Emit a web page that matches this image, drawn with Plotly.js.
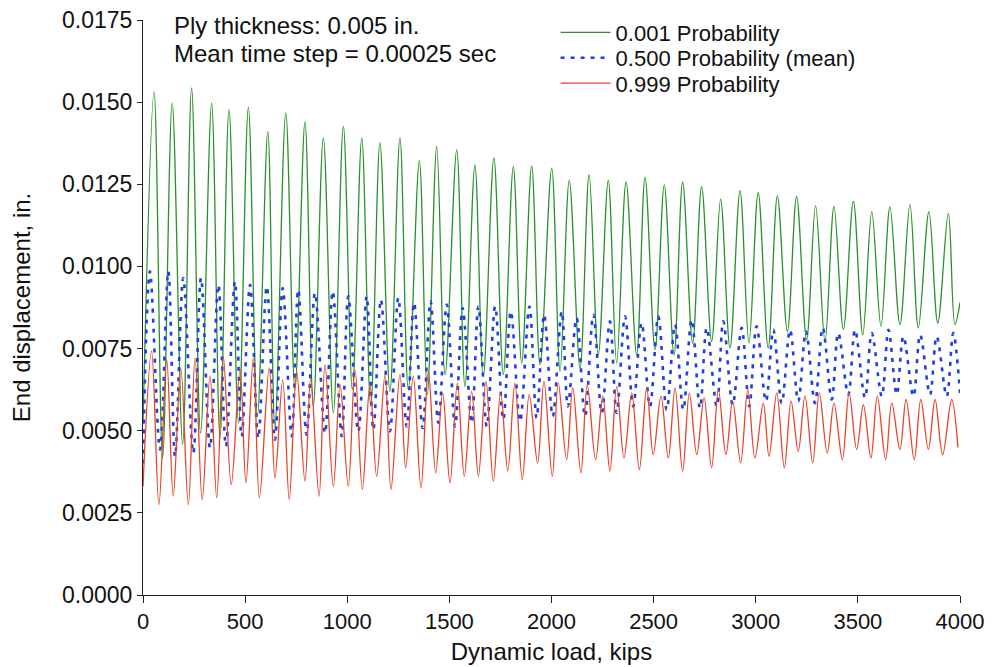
<!DOCTYPE html>
<html>
<head>
<meta charset="utf-8">
<script src="https://cdn.plot.ly/plotly-3.0.1.min.js"></script>
<style>html,body{margin:0;padding:0;background:#fff;}#chart{width:994px;height:667px;}</style>
</head>
<body>
<div id="chart"></div>
<script>
// ---- 0.001 Probability (green) ----
const greenStart = [0, 0.0052];
const greenPeakX = [54,143,238,336,421,516,611,699,793,883,981,1071,1160,1258,1353,1438,1536,1625,1718,1813,1903,2001,2087,2184,2278,2365,2458,2552,2642,2735,2828,2923,3012,3106,3200,3293,3383,3478,3568,3657,3755,3848,3943];
const greenPeakY = [0.01532,0.01497,0.01543,0.01497,0.01477,0.01485,0.01411,0.01467,0.01441,0.01391,0.01426,0.01391,0.01377,0.01391,0.01322,0.01365,0.01355,0.01309,0.01330,0.01304,0.01306,0.01299,0.01262,0.01279,0.01262,0.01257,0.01272,0.01248,0.01257,0.01243,0.01205,0.01231,0.01225,0.01215,0.01213,0.01185,0.01182,0.01198,0.01167,0.01181,0.01188,0.01167,0.01162];
const greenTroughX = [96,194,282,377,468,560,646,744,834,932,1025,1115,1209,1299,1392,1479,1576,1666,1764,1854,1944,2042,2140,2229,2319,2417,2507,2600,2691,2784,2874,2967,3061,3155,3249,3339,3429,3524,3613,3706,3796,3891,3975];
const greenTroughY = [0.00417,0.00458,0.00493,0.00478,0.00524,0.00544,0.00509,0.00625,0.00574,0.00554,0.00625,0.00574,0.00620,0.00625,0.00610,0.00671,0.00635,0.00665,0.00671,0.00706,0.00701,0.00681,0.00691,0.00731,0.00706,0.00731,0.00747,0.00731,0.00767,0.00772,0.00752,0.00767,0.00752,0.00802,0.00777,0.00772,0.00808,0.00792,0.00818,0.00823,0.00813,0.00828,0.00823];
const greenEnd = [4000, 0.0089];

// ---- 0.500 Probability (mean) (blue) ----
const blueStart = [0, 0.0040];
const bluePeakX = [34,124,197,284,369,450,524,606,684,760,842,929,1005,1095,1165,1250,1327,1408,1487,1565,1642,1724,1801,1892,1964,2050,2123,2205,2286,2360,2441,2523,2605,2686,2760,2841,2931,3004,3086,3168,3246,3328,3404,3486,3568,3650,3723,3805,3886,3967];
const bluePeakY = [0.00985,0.00985,0.00965,0.00965,0.00944,0.00954,0.00944,0.00939,0.00934,0.00929,0.00919,0.00924,0.00909,0.00909,0.00899,0.00904,0.00889,0.00894,0.00884,0.00873,0.00878,0.00878,0.00863,0.00878,0.00853,0.00863,0.00843,0.00853,0.00833,0.00848,0.00828,0.00848,0.00823,0.00838,0.00813,0.00833,0.00813,0.00818,0.00807,0.00807,0.00802,0.00813,0.00797,0.00807,0.00797,0.00807,0.00787,0.00792,0.00787,0.00797];
const blueTroughX = [83,157,246,328,406,483,564,646,728,801,891,973,1054,1128,1209,1291,1369,1446,1528,1609,1683,1764,1846,1927,2006,2080,2164,2246,2319,2400,2482,2564,2645,2727,2809,2887,2968,3050,3127,3208,3290,3372,3453,3535,3617,3690,3772,3853,3935];
const blueTroughY = [0.00443,0.00422,0.00432,0.00448,0.00453,0.00483,0.00478,0.00473,0.00483,0.00488,0.00493,0.00483,0.00498,0.00503,0.00498,0.00513,0.00508,0.00524,0.00513,0.00524,0.00513,0.00534,0.00529,0.00539,0.00544,0.00574,0.00544,0.00554,0.00554,0.00574,0.00574,0.00564,0.00564,0.00569,0.00574,0.00579,0.00574,0.00590,0.00584,0.00590,0.00584,0.00595,0.00610,0.00600,0.00605,0.00610,0.00605,0.00610,0.00605];
const blueEnd = [4000, 0.00615];

// ---- 0.999 Probability (red) ----
const redStart = [0, 0.0033];
const redPeakX = [42,116,185,255,328,393,475,540,618,684,752,821,891,965,1038,1111,1185,1258,1323,1397,1467,1539,1609,1679,1751,1821,1891,1963,2033,2104,2175,2251,2319,2393,2466,2536,2605,2675,2747,2817,2887,2961,3037,3103,3173,3241,3311,3383,3457,3527,3595,3666,3736,3808,3878,3959];
const redPeakY = [0.00742,0.00716,0.00691,0.00721,0.00666,0.00726,0.00686,0.00721,0.00691,0.00655,0.00681,0.00660,0.00701,0.00640,0.00686,0.00640,0.00671,0.00671,0.00666,0.00681,0.00615,0.00645,0.00620,0.00650,0.00615,0.00645,0.00610,0.00650,0.00645,0.00630,0.00640,0.00605,0.00635,0.00615,0.00630,0.00605,0.00630,0.00615,0.00600,0.00625,0.00590,0.00625,0.00584,0.00615,0.00590,0.00605,0.00615,0.00584,0.00615,0.00579,0.00605,0.00584,0.00595,0.00595,0.00595,0.00595];
const redTroughX = [78,148,222,290,361,432,504,570,646,716,793,862,932,1005,1074,1144,1214,1286,1361,1433,1503,1573,1642,1715,1786,1857,1932,2004,2074,2144,2216,2286,2355,2430,2498,2572,2642,2711,2784,2854,2926,2996,3065,3140,3208,3279,3350,3424,3494,3564,3636,3706,3776,3845,3915];
const redTroughY = [0.00275,0.00301,0.00275,0.00290,0.00296,0.00336,0.00341,0.00296,0.00356,0.00290,0.00346,0.00301,0.00331,0.00331,0.00321,0.00361,0.00321,0.00387,0.00326,0.00372,0.00341,0.00361,0.00361,0.00346,0.00377,0.00351,0.00402,0.00361,0.00412,0.00372,0.00412,0.00377,0.00417,0.00382,0.00427,0.00417,0.00377,0.00427,0.00387,0.00427,0.00402,0.00417,0.00422,0.00387,0.00437,0.00402,0.00432,0.00412,0.00443,0.00417,0.00412,0.00443,0.00412,0.00443,0.00427];
const redEnd = [3990, 0.00449];

const xTickVals = [0,500,1000,1500,2000,2500,3000,3500,4000];
const yTickVals = [0,0.0025,0.005,0.0075,0.01,0.0125,0.015,0.0175];

function series(start, px, py, tx, ty, end) {
  const pts = [start];
  px.forEach((x, i) => pts.push([x, py[i]]));
  tx.forEach((x, i) => pts.push([x, ty[i]]));
  pts.push(end);
  pts.sort((a, b) => a[0] - b[0]);
  return { x: pts.map(p => p[0]), y: pts.map(p => p[1]) };
}

const g = series(greenStart, greenPeakX, greenPeakY, greenTroughX, greenTroughY, greenEnd);
const b = series(blueStart, bluePeakX, bluePeakY, blueTroughX, blueTroughY, blueEnd);
const r = series(redStart, redPeakX, redPeakY, redTroughX, redTroughY, redEnd);

const FONT = 'Liberation Sans, Arial, Helvetica, sans-serif';

const traces = [
  { x: g.x, y: g.y, type: 'scatter', mode: 'lines', name: '0.001 Probability', legend: 'legend',
    line: { color: '#2a912a', width: 1.3, shape: 'spline', smoothing: 1 } },
  { x: b.x, y: b.y, type: 'scatter', mode: 'lines', name: '0.500 Probability (mean)', legend: 'legend2',
    line: { color: '#1f3fe0', width: 2.6, dash: '4px,6px', shape: 'spline', smoothing: 1 } },
  { x: r.x, y: r.y, type: 'scatter', mode: 'lines', name: '0.999 Probability', legend: 'legend3',
    line: { color: '#e8432b', width: 1.3, shape: 'spline', smoothing: 1 } }
];

const legendBase = { xref: 'paper', yref: 'paper', xanchor: 'left', yanchor: 'middle',
  bgcolor: 'rgba(0,0,0,0)', borderwidth: 0, font: { family: FONT, size: 22, color: '#111' },
  itemwidth: 50, tracegroupgap: 0 };

const layout = {
  width: 994, height: 667,
  margin: { l: 143, r: 34, t: 20, b: 72 },
  paper_bgcolor: '#fff', plot_bgcolor: '#fff',
  font: { family: FONT, color: '#111' },
  showlegend: true,
  legend: Object.assign({}, legendBase, { x: 0.505, y: 0.978 }),
  legend2: Object.assign({}, legendBase, { x: 0.505, y: 0.934 }),
  legend3: Object.assign({}, legendBase, { x: 0.505, y: 0.890 }),
  xaxis: {
    range: [0, 4000], tickvals: xTickVals, ticktext: xTickVals.map(String),
    ticks: 'outside', ticklen: 7, tickwidth: 1, tickcolor: '#222',
    showline: true, linecolor: '#222', linewidth: 1, mirror: false,
    showgrid: false, zeroline: false,
    tickfont: { family: FONT, size: 22, color: '#111' },
    title: { text: 'Dynamic load, kips', font: { family: FONT, size: 24, color: '#111' }, standoff: 9 },
    automargin: false
  },
  yaxis: {
    range: [0, 0.0175], tickvals: yTickVals, ticktext: yTickVals.map(v => v.toFixed(4)),
    ticks: 'outside', ticklen: 5, tickwidth: 1, tickcolor: '#222',
    showline: true, linecolor: '#222', linewidth: 1,
    showgrid: false, zeroline: false,
    tickfont: { family: FONT, size: 23, color: '#111' },
    title: { text: 'End displacement, in.', font: { family: FONT, size: 24, color: '#111' }, standoff: 24 },
    automargin: false
  },
  annotations: [
    { text: 'Ply thickness: 0.005 in.', xref: 'paper', yref: 'paper', x: 0.0355, y: 0.99,
      xanchor: 'left', yanchor: 'middle', showarrow: false, font: { family: FONT, size: 24, color: '#111' } },
    { text: 'Mean time step = 0.00025 sec', xref: 'paper', yref: 'paper', x: 0.0355, y: 0.941,
      xanchor: 'left', yanchor: 'middle', showarrow: false, font: { family: FONT, size: 24, color: '#111' } }
  ]
};

Plotly.newPlot('chart', traces, layout, { displayModeBar: false, staticPlot: true });
</script>
</body>
</html>
